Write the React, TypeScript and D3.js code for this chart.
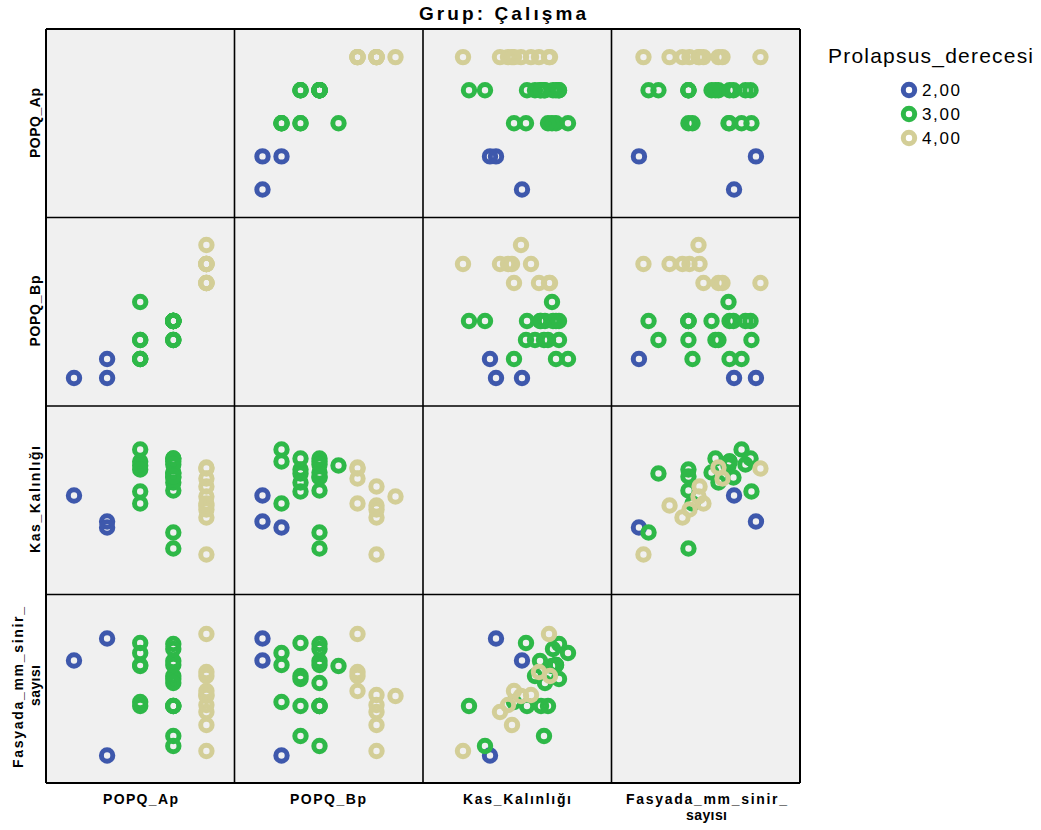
import React from "react";
import * as d3 from "d3";

// ---- data (Grup: Çalışma) ----
const derece = [2, 2, 2, 4, 4, 4, 4, 4, 4, 4, 4, 4, 4, 3, 3, 3, 3, 3, 3, 3, 3, 3, 3, 3, 3, 3, 3, 3, 3, 3, 3];
const popqAp = [0, -1, 0, 3, 3, 3, 3, 3, 3, 3, 3, 3, 3, 1, 1, 1, 1, 1, 1, 2, 2, 2, 2, 2, 2, 2, 2, 2, 2, 2, 2];
const popqBp = [-1, -1, 0, 6, 5, 5, 5, 5, 5, 4, 4, 4, 4, 0, 0, 0, 3, 1, 1, 1, 1, 1, 2, 2, 2, 2, 2, 2, 2, 2, 2];
const kasKalinligi = [1.46, 1.98, 1.34, 1.96, 0.8, 1.54, 1.7, 1.78, 2.16, 1.82, 2.54, 2.32, 2.52, 1.82, 2.9, 2.66, 2.58, 2.06, 2.5, 2.42, 2.24, 2.72, 1.24, 0.92, 2.44, 2.66, 2.34, 2.72, 2.6, 2.08, 2.36];
const fasyada = [9.63, 8.17, 1.83, 5.8, 2.13, 4.73, 5.2, 3.87, 5.87, 6.13, 7.13, 7.4, 9.93, 5.4, 8.67, 7.87, 7.8, 9.33, 5.13, 3.13, 7.13, 6.93, 2.47, 5.13, 6.67, 7.87, 8.13, 9.27, 8.93, 5.13, 5.13];

const variableNames = ["POPQ_Ap", "POPQ_Bp", "Kas_Kalınlığı", "Fasyada_mm_sinir_sayısı"];
const variableValues = [popqAp, popqBp, kasKalinligi, fasyada];
const variableDomains: [number, number][] = [
  [-1.846, 3.849],
  [-2.474, 7.447],
  [0, 3.77],
  [0, 12.567],
];
const legendLevels = [2, 3, 4];
const legendLabels = ["2,00", "3,00", "4,00"];
const legendColors = ["#3E58AC", "#2EB848", "#D3CE97"];

// ---- layout ----
const X0 = 46;
const Y0 = 29;
const S = 188.5;
const N = 4;
const FONT = "'Liberation Sans', Arial, Helvetica, sans-serif";
const R = 5.7;
const SW = 5;

export default function App() {
  const color = d3.scaleOrdinal<number, string>().domain(legendLevels).range(legendColors);
  const xs = variableDomains.map((d) => d3.scaleLinear().domain(d).range([0, S]));
  const ys = variableDomains.map((d) => d3.scaleLinear().domain(d).range([S, 0]));
  const order = d3.range(derece.length).sort(
    (a, b) => legendLevels.indexOf(derece[a]) - legendLevels.indexOf(derece[b]) || a - b
  );

  const panels: React.ReactNode[] = [];
  for (let r = 0; r < N; r++) {
    for (let c = 0; c < N; c++) {
      const left = X0 + c * S;
      const top = Y0 + r * S;
      panels.push(
        <rect key={`bg-${r}-${c}`} x={left} y={top} width={S} height={S} fill="#F0F0F0" />
      );
      if (r === c) continue;
      const xv = variableValues[c];
      const yv = variableValues[r];
      panels.push(
        <g key={`p-${r}-${c}`} transform={`translate(${left},${top})`}>
          {order.map((i) => (
            <circle
              key={i}
              cx={xs[c](xv[i])}
              cy={ys[r](yv[i])}
              r={R}
              fill="none"
              stroke={color(derece[i])}
              strokeWidth={SW}
            />
          ))}
        </g>
      );
    }
  }

  const lines: React.ReactNode[] = [];
  for (let k = 0; k <= N; k++) {
    const outer = k === 0 || k === N;
    lines.push(
      <line key={`v${k}`} x1={X0 + k * S} x2={X0 + k * S} y1={Y0} y2={Y0 + N * S} stroke="#000" strokeWidth={outer ? 2 : 1.6} />
    );
    lines.push(
      <line key={`h${k}`} x1={X0} x2={X0 + N * S} y1={Y0 + k * S} y2={Y0 + k * S} stroke="#000" strokeWidth={outer ? 2 : 1.6} />
    );
  }

  const labelStyle = { fontFamily: FONT, fontWeight: 700, fontSize: 14, fill: "#000" } as const;

  return (
    <svg width={1041} height={830} style={{ display: "block", position: "absolute", left: 0, top: 0 }}>
      <rect x={0} y={0} width={1041} height={830} fill="#fff" />
      {panels}
      {lines}
      <text x={502.5} y={20} textAnchor="middle" textLength={167} lengthAdjust="spacing" style={{ ...labelStyle, fontSize: 19 }}>
        Grup: Çalışma
      </text>
      {/* bottom labels */}
      <text x={140.5} y={804} textAnchor="middle" textLength={75} style={labelStyle}>POPQ_Ap</text>
      <text x={328} y={804} textAnchor="middle" textLength={76} style={labelStyle}>POPQ_Bp</text>
      <text x={517} y={804} textAnchor="middle" textLength={108} style={labelStyle}>Kas_Kalınlığı</text>
      <text x={706.5} y={804} textAnchor="middle" textLength={161} style={labelStyle}>Fasyada_mm_sinir_</text>
      <text x={706.5} y={820} textAnchor="middle" textLength={41} style={labelStyle}>sayısı</text>
      {/* left labels */}
      <text transform="translate(40,123) rotate(-90)" textAnchor="middle" textLength={70} style={labelStyle}>POPQ_Ap</text>
      <text transform="translate(40,311) rotate(-90)" textAnchor="middle" textLength={71} style={labelStyle}>POPQ_Bp</text>
      <text transform="translate(40,499.5) rotate(-90)" textAnchor="middle" textLength={107} style={labelStyle}>Kas_Kalınlığı</text>
      <text transform="translate(23,687.5) rotate(-90)" textAnchor="middle" textLength={161} style={labelStyle}>Fasyada_mm_sinir_</text>
      <text transform="translate(40,685.5) rotate(-90)" textAnchor="middle" textLength={41} style={labelStyle}>sayısı</text>
      {/* legend */}
      <text x={828} y={63} textLength={205} style={{ fontFamily: FONT, fontSize: 21, fill: "#000" }}>
        Prolapsus_derecesi
      </text>
      {legendLevels.map((lv, i) => (
        <g key={lv}>
          <circle cx={909} cy={90 + i * 24} r={R} fill="none" stroke={color(lv)} strokeWidth={SW} />
          <text x={922} y={96 + i * 24} textLength={38} style={{ fontFamily: FONT, fontSize: 17, fill: "#000" }}>
            {legendLabels[i]}
          </text>
        </g>
      ))}
    </svg>
  );
}
